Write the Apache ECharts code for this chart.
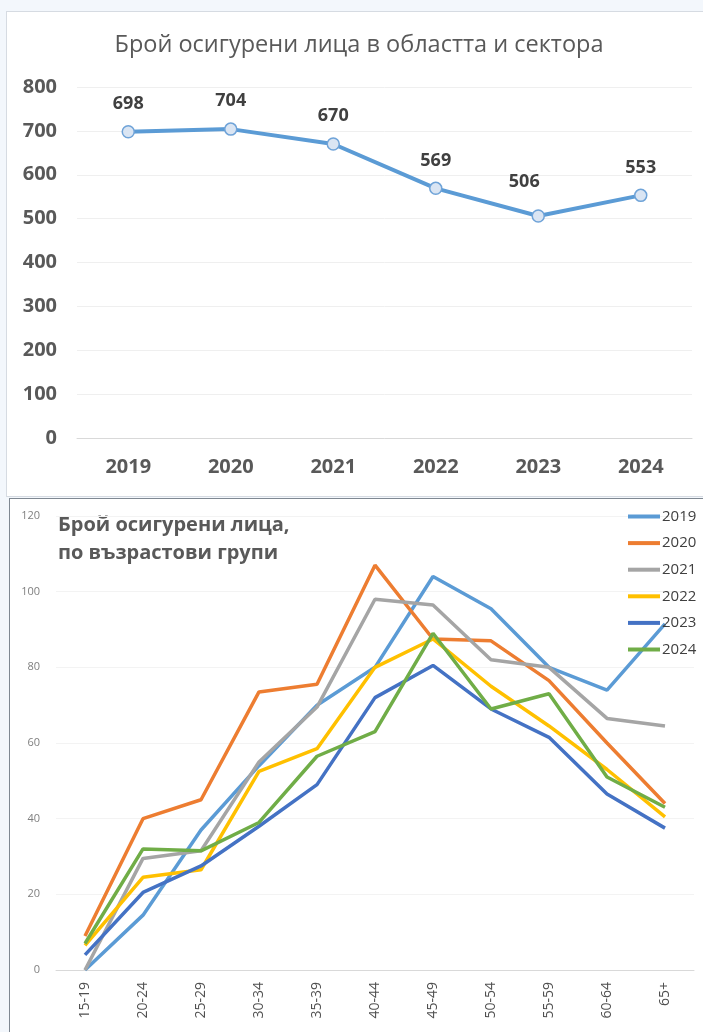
<!DOCTYPE html>
<html>
<head>
<meta charset="utf-8">
<script src="https://cdn.jsdelivr.net/npm/echarts@6/dist/echarts.min.js"></script>
<style>
  html, body { margin: 0; padding: 0; }
  body { width: 703px; height: 1032px; background: #f3f7fc; position: relative; overflow: hidden; }
  #boxTop { position: absolute; left: 6px; top: 11px; width: 710px; height: 484px; background: #fff; border: 1px solid #d6dbe2; }
  #boxBottom { position: absolute; left: 9px; top: 498px; width: 710px; height: 560px; background: #fff; border-left: 1px solid #7f8892; border-top: 1px solid #7f8892; }
  #chart { position: absolute; left: 0; top: 0; width: 703px; height: 1032px; }
</style>
</head>
<body>
<div id="boxTop"></div>
<div id="boxBottom"></div>
<div id="chart"></div>
<script>
// Insured persons per year (region and sector)
const years = ['2019', '2020', '2021', '2022', '2023', '2024'];
const totals = [698, 704, 670, 569, 506, 553];

// Insured persons by age group, one list per year
const ageGroups = ['15-19', '20-24', '25-29', '30-34', '35-39', '40-44', '45-49', '50-54', '55-59', '60-64', '65+'];
const age2019 = [0, 14.5, 37, 54, 70, 80, 104, 95.5, 80, 74, 91.5];
const age2020 = [9, 40, 45, 73.5, 75.5, 107, 87.5, 87, 76.5, 60, 44];
const age2021 = [0, 29.5, 31.5, 55, 69.5, 98, 96.5, 82, 80, 66.5, 64.5];
const age2022 = [6.5, 24.5, 26.5, 52.5, 58.5, 80, 87.5, 75, 64.5, 53, 40.5];
const age2023 = [4, 20.5, 27.5, 38, 49, 72, 80.5, 69, 61.5, 46.5, 37.5];
const age2024 = [7, 32, 31.5, 39, 56.5, 63, 89, 69, 73, 51, 43];

const topTitle = 'Брой осигурени лица в областта и сектора';
const bottomTitle = ['Брой осигурени лица,', 'по възрастови групи'];

const FONT = '"Open Sans", "Noto Sans", sans-serif';
const palette = ['#5b9bd5', '#ed7d31', '#a5a5a5', '#ffc000', '#4472c4', '#70ad47'];
const ageSeries = [age2019, age2020, age2021, age2022, age2023, age2024];

const chart = echarts.init(document.getElementById('chart'), null, { renderer: 'canvas' });

const option = {
  animation: false,
  textStyle: { fontFamily: FONT },
  graphic: [
    {
      type: 'text', x: 359, y: 45,
      style: { text: topTitle, fill: '#595959', font: '23.5px ' + FONT, textAlign: 'center', textVerticalAlign: 'middle' }
    },
    {
      type: 'text', x: 58, y: 525,
      style: { text: bottomTitle[0], fill: '#595959', font: 'bold 20px ' + FONT, textAlign: 'left', textVerticalAlign: 'middle' }
    },
    {
      type: 'text', x: 58, y: 553,
      style: { text: bottomTitle[1], fill: '#595959', font: 'bold 20px ' + FONT, textAlign: 'left', textVerticalAlign: 'middle' }
    }
  ],
  legend: {
    data: years,
    orient: 'vertical',
    left: 628, top: 508,
    padding: 0,
    icon: 'rect',
    itemWidth: 32, itemHeight: 4,
    itemGap: 9.6,
    textStyle: { fontFamily: FONT, fontSize: 15, color: '#404040', lineHeight: 17, padding: [0, 0, 0, -3] }
  },
  color: palette,
  grid: [
    { left: 77, right: 11, top: 87, bottom: 594 },
    { left: 56, right: 9, top: 516, bottom: 62 }
  ],
  xAxis: [
    {
      gridIndex: 0, type: 'category', data: years, boundaryGap: true,
      axisLine: { lineStyle: { color: '#d9d9d9', width: 1 } },
      axisTick: { show: false },
      axisLabel: { color: '#595959', fontSize: 20, fontWeight: 'bold', margin: 19, fontFamily: FONT }
    },
    {
      gridIndex: 1, type: 'category', data: ageGroups, boundaryGap: true,
      axisLine: { lineStyle: { color: '#d9d9d9', width: 1 } },
      axisTick: { show: false },
      axisLabel: { color: '#505050', fontSize: 14, rotate: 90, margin: 12, fontFamily: FONT }
    }
  ],
  yAxis: [
    {
      gridIndex: 0, type: 'value', min: 0, max: 800, interval: 100,
      axisLine: { show: false }, axisTick: { show: false },
      splitLine: { lineStyle: { color: '#efefef', width: 1 } },
      axisLabel: { color: '#595959', fontSize: 20, fontWeight: 'bold', margin: 20, fontFamily: FONT }
    },
    {
      gridIndex: 1, type: 'value', min: 0, max: 120, interval: 20,
      axisLine: { show: false }, axisTick: { show: false },
      splitLine: { lineStyle: { color: '#f3f3f3', width: 1 } },
      axisLabel: { color: '#7f7f7f', fontSize: 11, margin: 16, fontFamily: FONT }
    }
  ],
  series: [
    {
      name: 'total', type: 'line', xAxisIndex: 0, yAxisIndex: 0,
      data: totals.map(function (v, i) {
        const item = { value: v };
        if (years[i] === '2023') item.label = { offset: [-14, -6] };
        return item;
      }),
      symbol: 'circle', symbolSize: 12,
      lineStyle: { color: '#5b9bd5', width: 4 },
      itemStyle: { color: '#dae5f3', borderColor: '#6fa3d8', borderWidth: 1.5 },
      label: { show: true, position: 'top', distance: 12, color: '#404040', fontSize: 18, fontWeight: 'bold', fontFamily: FONT },
      z: 3
    }
  ].concat(years.map(function (y, i) {
    return {
      name: y, type: 'line', xAxisIndex: 1, yAxisIndex: 1,
      data: ageSeries[i],
      symbol: 'none',
      lineStyle: { width: 3.5, color: palette[i] },
      itemStyle: { color: palette[i] }
    };
  }))
};

chart.setOption(option);
</script>
</body>
</html>
